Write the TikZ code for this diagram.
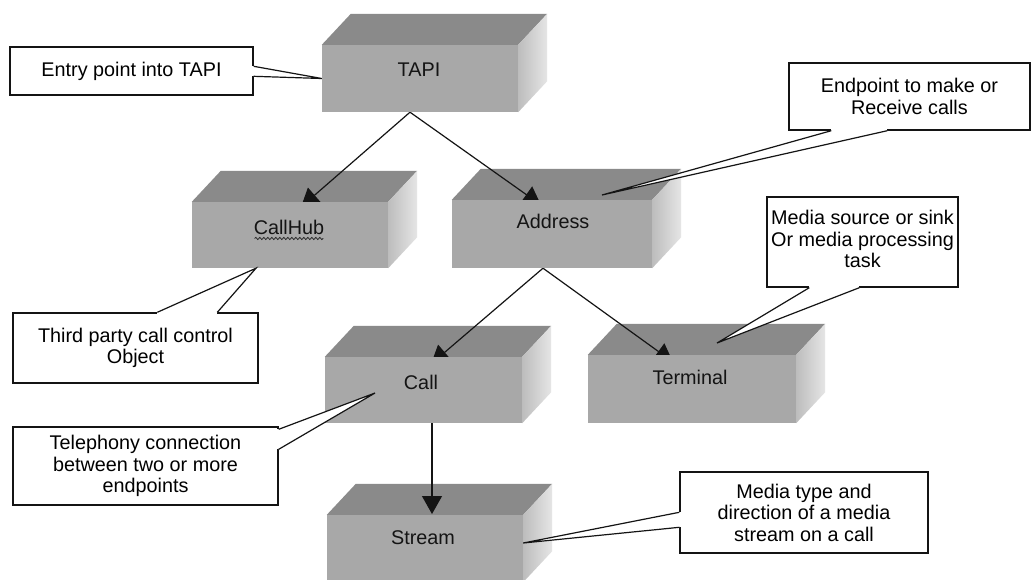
\documentclass[tikz,border=0pt]{standalone}
\usepackage{fontspec}
\setmainfont{Liberation Sans}
\usetikzlibrary{calc,arrows.meta,decorations.pathmorphing}

\pgfdeclarelayer{background}
\pgfdeclarelayer{faces}
\pgfdeclarelayer{arrows}
\pgfsetlayers{background,faces,arrows,main}

\definecolor{topface}{gray}{0.54}
\definecolor{frontface}{gray}{0.66}
\definecolor{sidenear}{gray}{0.74}
\definecolor{sidefar}{gray}{0.90}
\definecolor{inkline}{gray}{0.08}

\tikzset{
  x=1pt, y=-1pt,
  txt/.style={font=\fontsize{19.8}{21.5}\selectfont, align=center, inner sep=0pt},
  blockfront/.style={fill=frontface, inner sep=0pt, minimum width=#1, minimum height=67pt},
  blockfront/.default=196pt,
  blocktext/.style={txt, text=inkline},
  note/.style={txt, draw=inkline, fill=white, line width=1.4pt},
  link/.style={draw=inkline, line width=1.2pt, -{Triangle[length=18pt,width=20pt]}},
  ptrline/.style={draw=inkline, line width=1.2pt, line join=miter},
}

% top and right faces of a block whose front face is node #1
\newcommand\blockfaces[1]{%
  \fill[topface] (#1.north west) -- ++(29,-31) -- ($(#1.north east)+(29,-31)$)
    -- (#1.north east) -- cycle;
  \shade[left color=sidenear, right color=sidefar] (#1.north east) -- ++(29,-31)
    -- ($(#1.south east)+(29,-31)$) -- (#1.south east) -- cycle;
}

% wedge pointer of a note: base ends #1 and #2 on the note border, tip #3
\newcommand\calloutptr[3]{%
  \fill[white] (#1) -- (#3) -- (#2) -- cycle;
  \draw[white, line width=3pt] (#1) -- (#2);
  \draw[ptrline] (#1) -- (#3) -- (#2);
}

\begin{document}
\begin{tikzpicture}
\useasboundingbox (0,0) rectangle (1032,579);
\begin{pgfonlayer}{background}
  \fill[white] (0,0) rectangle (1032,579);
\end{pgfonlayer}

% front faces of the blocks
\node[blockfront] (tapi) at (420,78.5) {};
\node[blockfront, minimum height=66pt] (hub) at (290,235) {};
\node[blockfront=200pt, minimum height=68pt] (addr) at (552,234) {};
\node[blockfront=197pt, minimum height=66pt] (call) at (423.5,390) {};
\node[blockfront=208pt, minimum height=68pt] (term) at (692,389) {};
\node[blockfront] (stream) at (425,548.5) {};

% block labels
\node[blocktext] (tapiT) at (419,70) {TAPI};
\node[blocktext] (hubT) at (289,227) {CallHub};
\node[blocktext] (addrT) at (553,221) {Address};
\node[blocktext] (callT) at (421,382) {Call};
\node[blocktext] (termT) at (690,377) {Terminal};
\node[blocktext] (streamT) at (423,538) {Stream};
\draw[decorate, decoration={snake, amplitude=1.1pt, segment length=4pt},
      gray!30!black, line width=0.8pt]
  ($(hubT.south west)+(1,4)$) -- ($(hubT.south east)+(-1,4)$);

\begin{pgfonlayer}{faces}
  \blockfaces{tapi}
  \blockfaces{hub}
  \blockfaces{addr}
  \blockfaces{call}
  \blockfaces{term}
  \blockfaces{stream}
\end{pgfonlayer}

% hierarchy arrows (their tips run under the front faces)
\coordinate (tapiOut) at ($(tapi.south)+(-10,0)$);
\coordinate (hubIn) at (301,207);
\coordinate (addrIn) at (541,205);
\coordinate (addrOut) at ($(addr.south)+(-9,0)$);
\coordinate (callIn) at (431,364);
\coordinate (termIn) at (673,362);
\coordinate (callOut) at ($(call.south)+(8.5,0)$);
\coordinate (streamIn) at (432,514);
\begin{pgfonlayer}{arrows}
  \draw[link] (tapiOut) -- (hubIn);
  \draw[link] (tapiOut) -- (addrIn);
  \draw[link] (addrOut) -- (callIn);
  \draw[link] (addrOut) -- (termIn);
  \draw[link] (callOut) -- (streamIn);
\end{pgfonlayer}

% notes
\node[note, minimum width=243pt, minimum height=48pt] (entry) at (131.5,71)
  {Entry point into TAPI};
\node[note, minimum width=241pt, minimum height=67pt] (endp) at (909.5,96.5)
  {Endpoint to make or\\Receive calls};
\node[note, minimum width=191pt, minimum height=90pt, text depth=6pt] (msrc) at (862.5,242)
  {Media source or sink\\Or media processing\\task};
\node[note, minimum width=245pt, minimum height=70pt] (third) at (135.5,348)
  {Third party call control\\Object};
\node[note, minimum width=265pt, minimum height=78pt] (tel) at (145.5,466)
  {Telephony connection\\between two or more\\endpoints};
\node[note, minimum width=248pt, minimum height=81pt] (mtype) at (804,512.5)
  {Media type and\\direction of a media\\stream on a call};

% pointer tips
\coordinate (addrTip) at (602,195);
\coordinate (termTip) at (717,343);
\coordinate (hubTip) at ($(hub.south)+(-34,0)$);
\coordinate (callTip) at (375,393);
\coordinate (streamTip) at ($(stream.east)+(0,-5.5)$);

\calloutptr{$(entry.north east)+(0,20)$}{$(entry.north east)+(0,30)$}{tapi.west}
\calloutptr{$(endp.south west)+(43,0)$}{$(endp.south west)+(99,0)$}{addrTip}
\calloutptr{$(msrc.south west)+(43,0)$}{$(msrc.south west)+(93,0)$}{termTip}
\calloutptr{$(third.north west)+(145,0)$}{$(third.north west)+(205,0)$}{hubTip}
\calloutptr{$(tel.north east)+(0,3)$}{$(tel.north east)+(0,23)$}{callTip}
\calloutptr{$(mtype.north west)+(0,41)$}{$(mtype.north west)+(0,56)$}{streamTip}
\end{tikzpicture}
\end{document}
